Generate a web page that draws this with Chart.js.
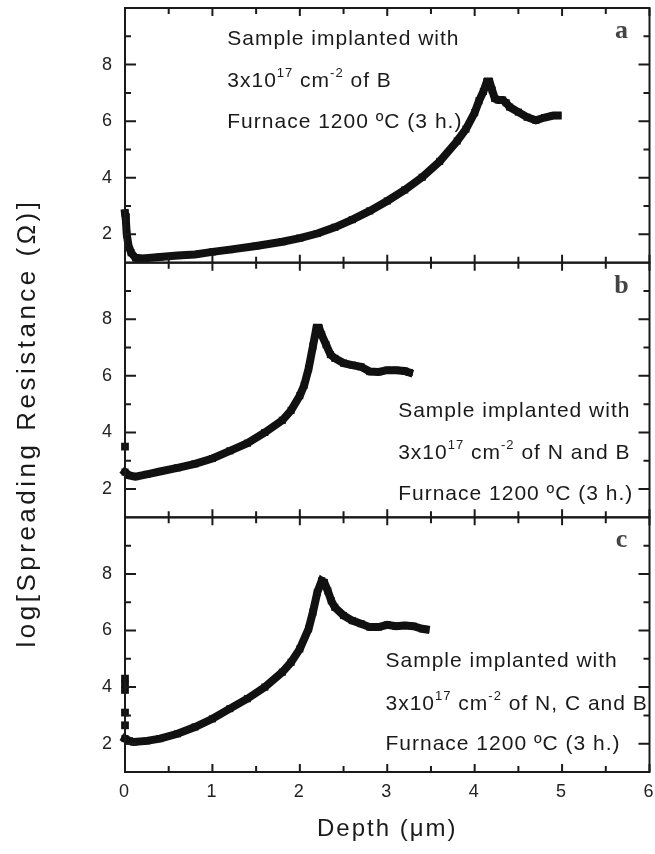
<!DOCTYPE html>
<html>
<head>
<meta charset="utf-8">
<script src="https://cdn.jsdelivr.net/npm/chart.js@4.4.1/dist/chart.umd.min.js"></script>
<style>
    html, body { margin: 0; padding: 0; background: #fff; }
    #wrap { width: 655px; height: 854px; }
</style>
</head>
<body>
<div id="wrap"><canvas id="graficoResistenciaCanvas"></canvas></div>
<script>

// amostra a: B
const profundidadeA = [0, 0.01, 0.02, 0.04, 0.07, 0.12, 0.2, 0.4, 0.6, 0.8, 1.0, 1.2, 1.5, 1.8, 2.0, 2.2, 2.4, 2.6, 2.8, 3.0, 3.2, 3.4, 3.6, 3.8, 3.9, 4.0, 4.05, 4.1, 4.14, 4.17, 4.2, 4.23, 4.27, 4.32, 4.36, 4.4, 4.5, 4.6, 4.7, 4.8, 4.9, 4.95]
const logResA = [2.75, 2.5, 2.0, 1.6, 1.35, 1.17, 1.15, 1.2, 1.25, 1.29, 1.38, 1.46, 1.59, 1.74, 1.87, 2.03, 2.25, 2.52, 2.83, 3.18, 3.57, 4.02, 4.58, 5.3, 5.72, 6.3, 6.72, 7.05, 7.4, 7.4, 7.1, 6.8, 6.75, 6.75, 6.65, 6.5, 6.32, 6.14, 6.03, 6.13, 6.2, 6.2]

// amostra b: N e B
const profundidadeB = [0, 0.05, 0.12, 0.25, 0.4, 0.6, 0.8, 1.0, 1.2, 1.4, 1.6, 1.8, 1.9, 2.0, 2.05, 2.1, 2.15, 2.19, 2.22, 2.25, 2.3, 2.35, 2.4, 2.5, 2.6, 2.7, 2.8, 2.9, 3.0, 3.1, 3.2, 3.25]
const logResB = [2.6, 2.48, 2.44, 2.52, 2.62, 2.75, 2.89, 3.08, 3.35, 3.62, 4.0, 4.43, 4.78, 5.3, 5.67, 6.25, 7.05, 7.7, 7.7, 7.45, 7.1, 6.75, 6.62, 6.45, 6.38, 6.32, 6.15, 6.14, 6.2, 6.2, 6.17, 6.12]
const profundidadeBSolta = [0]
const logResBSolta = [3.5]

// amostra c: N, C e B
const profundidadeC = [0, 0.05, 0.1, 0.25, 0.4, 0.6, 0.8, 1.0, 1.2, 1.4, 1.6, 1.8, 1.9, 2.0, 2.1, 2.15, 2.2, 2.25, 2.28, 2.32, 2.36, 2.4, 2.5, 2.6, 2.7, 2.8, 2.9, 3.0, 3.1, 3.2, 3.3, 3.4, 3.44]
const logResC = [2.18, 2.1, 2.06, 2.1, 2.18, 2.35, 2.59, 2.88, 3.24, 3.59, 4.0, 4.53, 4.88, 5.35, 6.06, 6.65, 7.35, 7.76, 7.7, 7.4, 7.05, 6.82, 6.53, 6.35, 6.24, 6.12, 6.12, 6.2, 6.15, 6.18, 6.15, 6.06, 6.04]
const profundidadeCSolta = [0, 0, 0, 0, 0]
const logResCSolta = [4.3, 4.1, 3.9, 3.1, 2.65]

// eixos
const xTicks = [0, 1, 2, 3, 4, 5, 6]
const xTicksMenores = [0.5, 1.5, 2.5, 3.5, 4.5, 5.5]
const yTicks = [2, 4, 6, 8]
const yTicksMenores = [3, 5, 7, 9]
const paineis = ['ya', 'yb', 'yc']
const letrasPaineis = ['a', 'b', 'c']

// textos dentro de cada painel: [x, y] em unidades do grafico
const textosPaineis = {
    ya: { x: 1.17, y: [8.69, 7.21, 5.76], amostra: 'of B' },
    yb: { x: 3.125, y: [4.53, 3.05, 1.63], amostra: 'of N and B' },
    yc: { x: 2.98, y: [4.71, 3.19, 1.78], amostra: 'of N, C and B' },
}

const fonte = '"Liberation Sans", Arial, Helvetica, sans-serif'
const corTraco = '#111'

function pontos(xs, ys) {
    return xs.map((x, i) => ({ x: x, y: ys[i] }))
}

function linha(xs, ys, eixo) {
    return {
        data: pontos(xs, ys),
        yAxisID: eixo,
        showLine: true,
        borderColor: corTraco,
        borderWidth: 8,
        borderCapStyle: 'square',
        borderJoinStyle: 'miter',
        pointStyle: 'rect',
        pointRadius: 5,
        pointBorderWidth: 0,
        pointBackgroundColor: corTraco,
        clip: false
    }
}

function soltos(xs, ys, eixo) {
    return {
        data: pontos(xs, ys),
        yAxisID: eixo,
        showLine: false,
        pointStyle: 'rect',
        pointRadius: 5.5,
        pointBorderWidth: 0,
        pointBackgroundColor: corTraco,
        clip: false
    }
}

function eixoY(id) {
    return {
        type: 'linear',
        position: 'left',
        stack: 'paineis',
        stackWeight: 1,
        min: 1,
        max: 10,
        afterBuildTicks: scale => { scale.ticks = yTicks.map(v => ({ value: v })) },
        afterFit: scale => { scale.width = 60; scale.paddingTop = 0; scale.paddingBottom = 0 },
        ticks: {
            color: '#222',
            padding: 11,
            font: { family: fonte, size: 18 }
        },
        grid: { display: false, drawTicks: false },
        border: { display: false }
    }
}

// espacamento das letras dos titulos
const chartEspacamento = {
    id: 'chartEspacamento',
    beforeDraw(chart) {
        chart.ctx.letterSpacing = '2px'
    }
}

// moldura de cada painel com os ticks para dentro
const chartMoldura = {
    id: 'chartMoldura',
    afterDatasetsDraw(chart) {
        const { ctx, chartArea, scales } = chart
        const x = scales.x
        ctx.save()
        ctx.strokeStyle = '#1a1a1a'
        ctx.lineWidth = 2
        paineis.forEach((id, k) => {
            const y = scales[id]
            ctx.strokeRect(chartArea.left, y.top, chartArea.right - chartArea.left, y.bottom - y.top)
            ctx.beginPath()
            xTicks.concat(xTicksMenores).forEach(v => {
                const px = x.getPixelForValue(v)
                const len = xTicks.includes(v) ? 8 : 6
                ctx.moveTo(px, y.top); ctx.lineTo(px, y.top + len)
                ctx.moveTo(px, y.bottom); ctx.lineTo(px, y.bottom - len)
            })
            yTicks.concat(yTicksMenores).forEach(v => {
                const py = y.getPixelForValue(v)
                const len = yTicks.includes(v) ? 11 : 6
                ctx.moveTo(chartArea.left, py); ctx.lineTo(chartArea.left + len, py)
                ctx.moveTo(chartArea.right, py); ctx.lineTo(chartArea.right - len, py)
            })
            ctx.stroke()

            // letra do painel
            ctx.letterSpacing = '0px'
            ctx.fillStyle = '#444'
            ctx.font = 'bold 26px "Liberation Serif", "Times New Roman", serif'
            ctx.textAlign = 'center'
            ctx.textBaseline = 'alphabetic'
            ctx.fillText(letrasPaineis[k], chartArea.right - 28, y.top + 30)

            // texto da amostra
            const t = textosPaineis[id]
            const px = x.getPixelForValue(t.x)
            ctx.fillStyle = '#1a1a1a'
            ctx.textAlign = 'left'
            ctx.letterSpacing = '1px'
            ctx.font = '21px ' + fonte
            ctx.fillText('Sample implanted with', px, y.getPixelForValue(t.y[0]))
            let cx = px
            const by = y.getPixelForValue(t.y[1])
            const partes = [['3x10', false], ['17', true], [' cm', false], ['-2', true], [' ' + t.amostra, false]]
            partes.forEach(([s, sup]) => {
                ctx.font = (sup ? '13px ' : '21px ') + fonte
                ctx.fillText(s, cx, sup ? by - 10 : by)
                cx += ctx.measureText(s).width
            })
            ctx.font = '21px ' + fonte
            ctx.fillText('Furnace 1200 \u00BAC (3 h.)', px, y.getPixelForValue(t.y[2]))
        })

        // titulo do eixo y, comum aos tres paineis
        ctx.translate(28, 423)
        ctx.rotate(-Math.PI / 2)
        ctx.fillStyle = '#1a1a1a'
        ctx.font = '26px ' + fonte
        ctx.letterSpacing = '3.5px'
        ctx.textAlign = 'center'
        ctx.textBaseline = 'middle'
        ctx.fillText('log[Spreading Resistance (\u03A9)]', 0, 0)
        ctx.restore()
    }
}

const graficoResistencia = new Chart(document.getElementById('graficoResistenciaCanvas'), {
    type: 'scatter',
    data: {
        datasets: [
            linha(profundidadeA, logResA, 'ya'),
            linha(profundidadeB, logResB, 'yb'),
            soltos(profundidadeBSolta, logResBSolta, 'yb'),
            linha(profundidadeC, logResC, 'yc'),
            soltos(profundidadeCSolta, logResCSolta, 'yc')
        ]
    },
    options: {
        responsive: true,
        maintainAspectRatio: false,
        animation: false,
        layout: { padding: { left: 65, right: 3, top: 8, bottom: 0 } },
        plugins: {
            legend: { display: false },
            tooltip: { enabled: false }
        },
        scales: {
            x: {
                type: 'linear',
                position: 'bottom',
                min: 0,
                max: 6,
                afterBuildTicks: scale => { scale.ticks = xTicks.map(v => ({ value: v })) },
                afterFit: scale => { scale.height = 82; scale.paddingLeft = 0; scale.paddingRight = 0 },
                ticks: {
                    color: '#222',
                    padding: 9,
                    font: { family: fonte, size: 18 }
                },
                grid: { display: false, drawTicks: false },
                border: { display: false },
                title: {
                    display: true,
                    text: 'Depth (\u03BCm)',
                    color: '#1a1a1a',
                    font: { family: fonte, size: 24 },
                    padding: { top: 4, bottom: 10 }
                }
            },
            yc: eixoY('yc'),
            yb: eixoY('yb'),
            ya: eixoY('ya')
        }
    },
    plugins: [chartEspacamento, chartMoldura]
})
</script>
</body>
</html>
